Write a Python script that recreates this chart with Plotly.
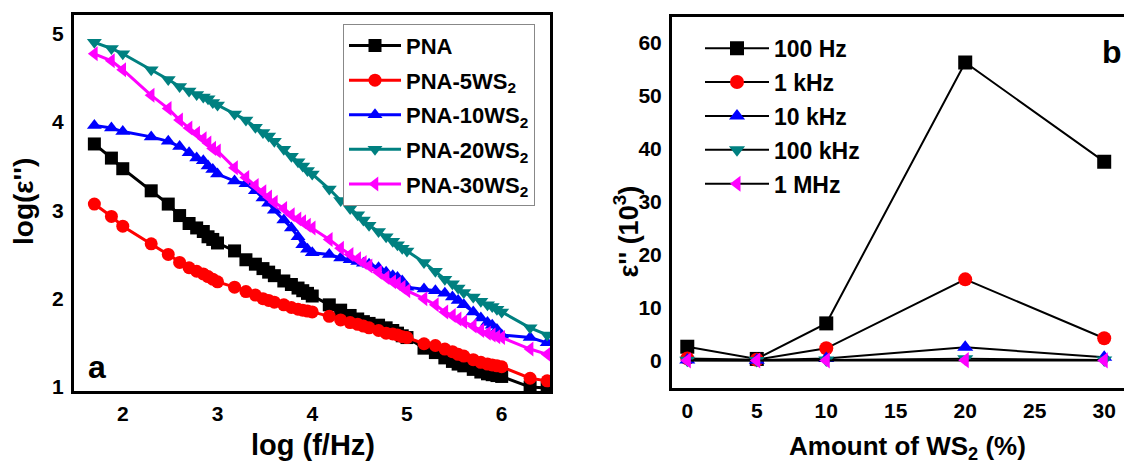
import plotly.graph_objects as go

# page body has an 8px margin, so the figure starts 8px in from the corner
OFF = 8
W, H = 1132 - OFF, 465 - OFF
FONT = "Liberation Sans, Arial, sans-serif"


def px(x):
    return min(1.0, (x - OFF) / W)


def py(y):
    return 1 - (y - OFF) / H


# panel a: log(eps'') vs log frequency
log_f = [1.70, 1.88, 2.00, 2.30, 2.48, 2.60, 2.70, 2.78, 2.85, 2.90, 2.95, 3.00,
         3.18, 3.30, 3.40, 3.48, 3.54, 3.60, 3.70, 3.78, 3.85, 3.90, 3.95, 4.00,
         4.18, 4.30, 4.40, 4.48, 4.54, 4.60, 4.70, 4.78, 4.85, 4.90, 4.95, 5.00,
         5.18, 5.30, 5.40, 5.48, 5.54, 5.60, 5.70, 5.78, 5.85, 5.90, 5.95, 6.00,
         6.30, 6.48]

pna = [3.75, 3.59, 3.47, 3.22, 3.07, 2.94, 2.85, 2.80, 2.76, 2.70, 2.67, 2.63,
       2.54, 2.44, 2.39, 2.34, 2.30, 2.26, 2.20, 2.16, 2.12, 2.09, 2.06, 2.03,
       1.93, 1.87, 1.81, 1.77, 1.74, 1.72, 1.70, 1.67, 1.64, 1.61, 1.58, 1.56,
       1.44, 1.39, 1.33, 1.29, 1.26, 1.24, 1.20, 1.17, 1.15, 1.14, 1.13, 1.12,
       1.00, 0.99]
pna_5 = [3.07, 2.93, 2.82, 2.62, 2.50, 2.41, 2.35, 2.31, 2.28, 2.25, 2.22, 2.19,
         2.13, 2.08, 2.04, 2.00, 1.98, 1.96, 1.93, 1.90, 1.88, 1.87, 1.86, 1.85,
         1.80, 1.76, 1.73, 1.71, 1.69, 1.67, 1.64, 1.61, 1.60, 1.59, 1.57, 1.56,
         1.49, 1.47, 1.43, 1.40, 1.37, 1.35, 1.31, 1.28, 1.26, 1.25, 1.24, 1.23,
         1.10, 1.07]
pna_10 = [3.96, 3.93, 3.89, 3.83, 3.78, 3.72, 3.65, 3.59, 3.56, 3.50, 3.46, 3.41,
          3.33, 3.30, 3.22, 3.14, 3.08, 3.00, 2.89, 2.80, 2.70, 2.61, 2.56, 2.52,
          2.50, 2.46, 2.44, 2.42, 2.40, 2.39, 2.35, 2.30, 2.26, 2.24, 2.20, 2.13,
          2.11, 2.09, 2.06, 2.02, 1.98, 1.93, 1.85, 1.78, 1.73, 1.70, 1.65, 1.59,
          1.56, 1.50]
pna_20 = [4.90, 4.83, 4.77, 4.59, 4.48, 4.40, 4.35, 4.31, 4.28, 4.26, 4.22, 4.19,
          4.09, 4.02, 3.94, 3.88, 3.84, 3.78, 3.69, 3.61, 3.55, 3.50, 3.45, 3.41,
          3.24, 3.11, 3.02, 2.95, 2.89, 2.83, 2.76, 2.70, 2.65, 2.61, 2.57, 2.54,
          2.41, 2.31, 2.22, 2.17, 2.12, 2.07, 2.02, 1.97, 1.93, 1.91, 1.88, 1.85,
          1.67, 1.59]
pna_30 = [4.77, 4.69, 4.59, 4.30, 4.15, 4.02, 3.93, 3.87, 3.81, 3.76, 3.70, 3.67,
          3.48, 3.37, 3.28, 3.21, 3.15, 3.09, 3.02, 2.95, 2.90, 2.87, 2.83, 2.80,
          2.67, 2.57, 2.50, 2.45, 2.41, 2.37, 2.30, 2.24, 2.19, 2.17, 2.13, 2.09,
          2.00, 1.93, 1.85, 1.81, 1.77, 1.74, 1.69, 1.64, 1.61, 1.59, 1.57, 1.56,
          1.43, 1.37]

# panel b: eps'' (10^3) vs WS2 amount
ws2 = [0, 5, 10, 20, 30]
f_100hz = [2.6, 0.3, 7.0, 56.2, 37.5]
f_1khz = [0.4, 0.15, 2.3, 15.3, 4.2]
f_10khz = [0.1, 0.07, 0.4, 2.5, 0.6]
f_100khz = [0.03, 0.02, 0.08, 0.35, 0.1]
f_1mhz = [0.01, 0.01, 0.02, 0.07, 0.02]

ticks_a_x = [2, 3, 4, 5, 6]
ticks_a_y = [1, 2, 3, 4, 5]
ticks_b_x = [0, 5, 10, 15, 20, 25, 30]
ticks_b_y = [0, 10, 20, 30, 40, 50, 60]

series_a = [
    ("PNA", pna, "black", "square"),
    ("PNA-5WS<sub>2</sub>", pna_5, "#ff0000", "circle"),
    ("PNA-10WS<sub>2</sub>", pna_10, "#0000ff", "triangle-up"),
    ("PNA-20WS<sub>2</sub>", pna_20, "#008080", "triangle-down"),
    ("PNA-30WS<sub>2</sub>", pna_30, "#ff00ff", "triangle-left"),
]
series_b = [
    ("100 Hz", f_100hz, "black", "square"),
    ("1 kHz", f_1khz, "#ff0000", "circle"),
    ("10 kHz", f_10khz, "#0000ff", "triangle-up"),
    ("100 kHz", f_100khz, "#008080", "triangle-down"),
    ("1 MHz", f_1mhz, "#ff00ff", "triangle-left"),
]

fig = go.Figure()

for name, vals, col, sym in series_a:
    fig.add_trace(go.Scatter(
        x=log_f, y=vals, name="<b>%s</b>" % name, mode="lines+markers",
        line=dict(color=col, width=3),
        marker=dict(symbol=sym, size=13, color=col),
        xaxis="x", yaxis="y", legend="legend", legendgroup=name,
    ))

for name, vals, col, sym in series_b:
    fig.add_trace(go.Scatter(
        x=ws2, y=vals, name="<b>%s</b>" % name, mode="lines+markers",
        line=dict(color="black", width=2),
        marker=dict(symbol=sym, size=14, color=col),
        xaxis="x2", yaxis="y2", legend="legend2", legendgroup=name,
    ))


def bold(vals):
    return ["<b>%s</b>" % v for v in vals]


axis_common = dict(showgrid=False, zeroline=False, showline=True, linecolor="black",
                   linewidth=3, ticks="",
                   tickfont=dict(family=FONT, size=21, color="black"))

fig.update_layout(
    width=W, height=H,
    margin=dict(l=0, r=0, t=0, b=0),
    plot_bgcolor="white", paper_bgcolor="white",
    font=dict(family=FONT, color="black"),
    xaxis=dict(domain=[px(74), px(550)], range=[1.485, 6.51],
               tickvals=ticks_a_x, ticktext=bold(ticks_a_x),
               mirror=True, anchor="y", ticklabelstandoff=2, **axis_common),
    yaxis=dict(domain=[py(397), py(15)], range=[0.955, 5.21],
               tickvals=ticks_a_y, ticktext=bold(ticks_a_y),
               mirror=True, anchor="x", ticklabelstandoff=3, **axis_common),
    xaxis2=dict(domain=[px(672), 1.0], range=[-1.1, 32.0],
                tickvals=ticks_b_x, ticktext=bold(ticks_b_x),
                mirror=True, anchor="y2", ticklabelstandoff=2, **axis_common),
    yaxis2=dict(domain=[py(394), py(17)], range=[-5.2, 64.8],
                tickvals=ticks_b_y, ticktext=bold(ticks_b_y),
                mirror=False, anchor="x2", ticklabelstandoff=3, **axis_common),
    legend=dict(x=px(343), y=py(24), xanchor="left", yanchor="top",
                bgcolor="white", bordercolor="#888888", borderwidth=1,
                font=dict(family=FONT, size=22, color="black"),
                itemwidth=52, tracegroupgap=3),
    legend2=dict(x=px(700), y=py(27), xanchor="left", yanchor="top",
                 bgcolor="rgba(0,0,0,0)", borderwidth=0,
                 font=dict(family=FONT, size=23, color="black"),
                 itemwidth=64, tracegroupgap=1),
    showlegend=True,
)


def label(text, x, y, size, angle=0):
    fig.add_annotation(text="<b>%s</b>" % text, x=px(x), y=py(y), xref="paper",
                       yref="paper", xanchor="center", yanchor="middle",
                       showarrow=False, textangle=angle,
                       font=dict(family=FONT, size=size, color="black"))


label("log (f/Hz)", 313, 452, 29)
label("log(ε'')", 24, 205, 28, -90)
label("Amount of WS<sub>2</sub> (%)", 907, 454, 26)
label("ε'' (10<sup>3</sup>)", 626, 235, 27, -90)
label("a", 97, 373, 32)
label("b", 1112, 53, 32)

fig.write_html("out.html")
